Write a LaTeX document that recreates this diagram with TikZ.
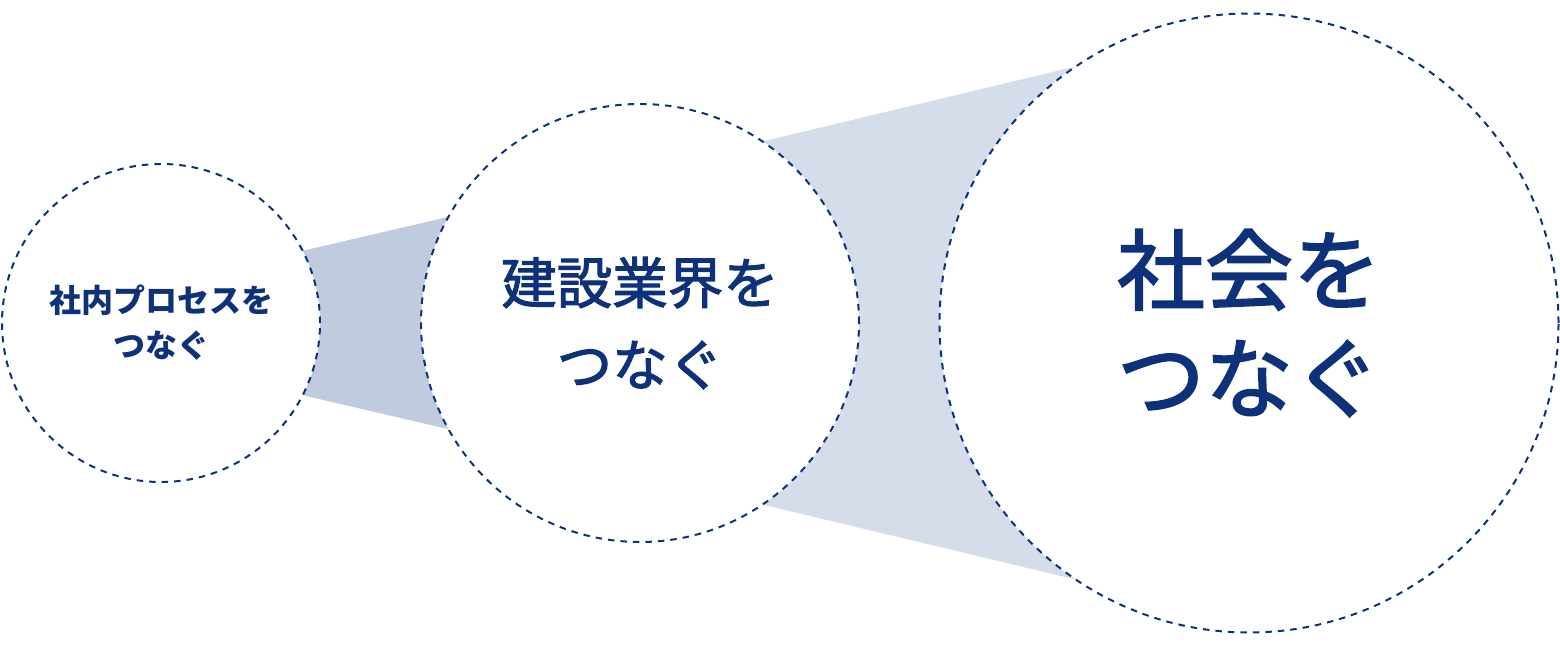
\documentclass[tikz,border=0pt]{standalone}
\usepackage{fontspec}
\newfontfamily\jpfont{Noto Sans CJK JP}
\newfontfamily\jpmedium{Noto Sans CJK JP}[FakeBold=2]
\usetikzlibrary{backgrounds}
\definecolor{navy}{HTML}{0E327A}
\definecolor{bandA}{HTML}{C0CBDF}
\definecolor{bandB}{HTML}{D5DCEA}

\begin{document}
\begin{tikzpicture}[x=1pt,y=1pt,
    ring/.style={circle,draw=navy,fill=white,line width=2pt,dash pattern=on 6.5pt off 6pt,
      inner sep=0pt,outer sep=0pt,text=navy,align=center}]
  \useasboundingbox (0,0) rectangle (1560,648);
  \node[ring,minimum size=318pt,font=\jpfont\bfseries\fontsize{32}{45}\selectfont]
    (process) at (161,325) {社内プロセスを\\つなぐ};
  \node[ring,minimum size=438pt,font=\jpmedium\fontsize{55.5}{82}\selectfont]
    (industry) at (640,325) {建設業界を\\つなぐ};
  \node[ring,minimum size=619pt,font=\jpmedium\fontsize{88}{108}\selectfont]
    (society) at (1249,325) {社会を\\つなぐ};
  \begin{pgfonlayer}{background}
    \fill[bandA] (process.27) -- (industry.151) -- (industry.209) -- (process.333) -- cycle;
    \fill[bandB] (industry.56) -- (society.124) -- (society.236) -- (industry.304) -- cycle;
  \end{pgfonlayer}
\end{tikzpicture}
\end{document}
